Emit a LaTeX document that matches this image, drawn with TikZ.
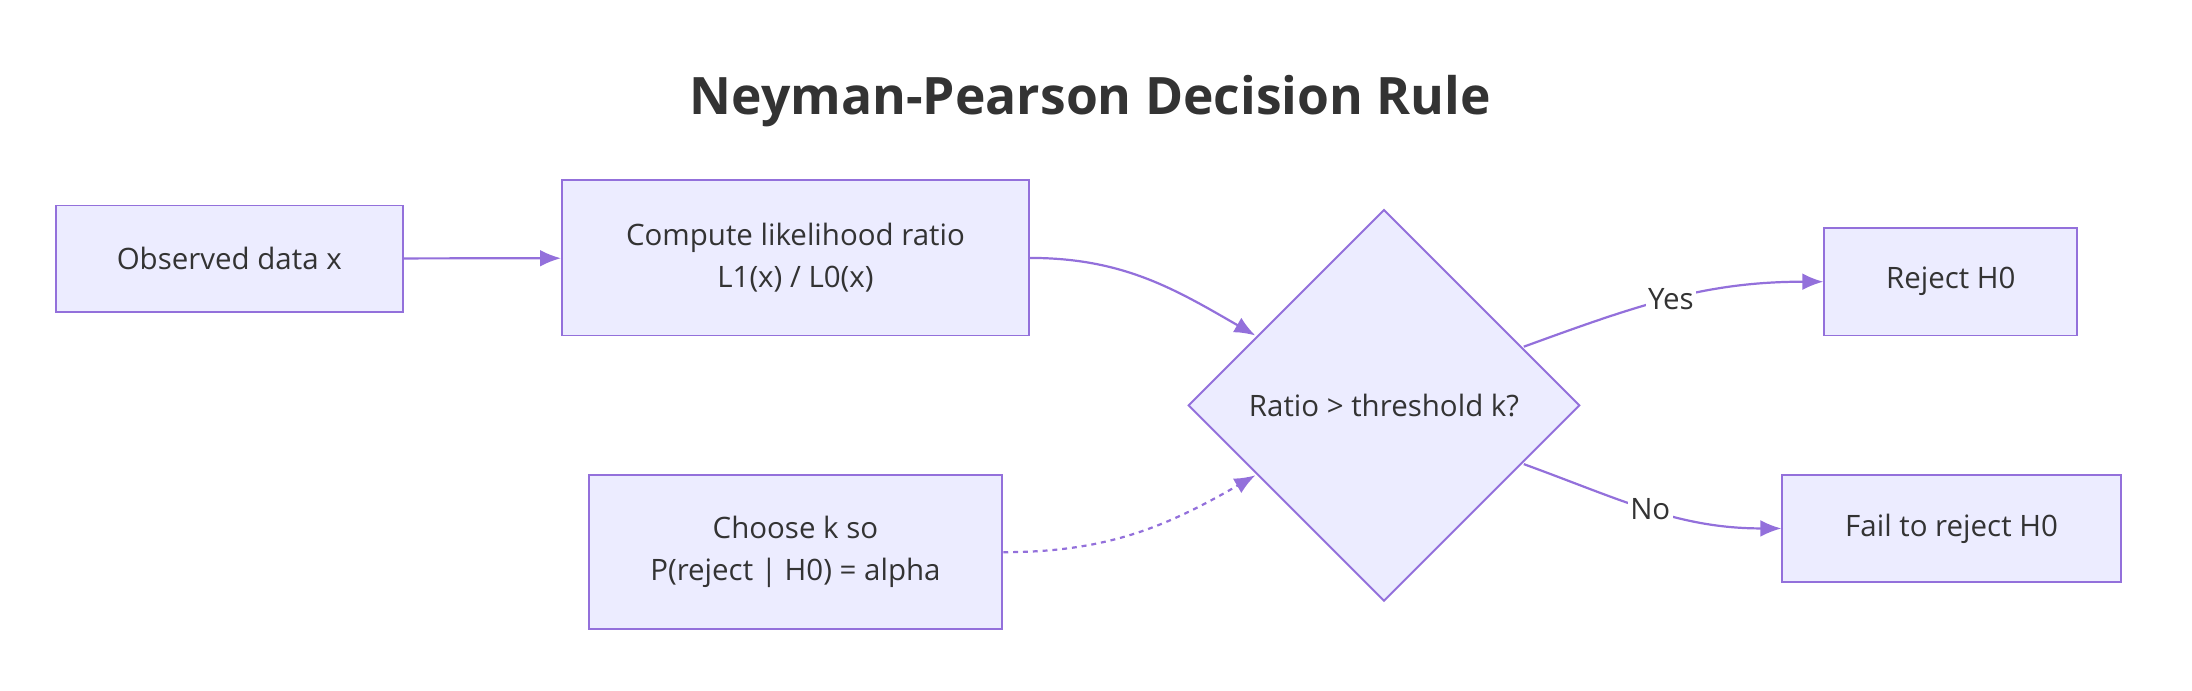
\documentclass[tikz,border=0pt]{standalone}
\usepackage{fontspec}
\setmainfont{Open Sans}
\usetikzlibrary{shapes.geometric}
\usetikzlibrary{arrows.meta}
\definecolor[named]{BoxFill}{HTML}{ECECFF}
\definecolor[named]{BoxLine}{HTML}{9370DB}
\definecolor[named]{TextGray}{HTML}{333333}
\tikzset{
  box/.style={draw=BoxLine,fill=BoxFill,rectangle,align=center,text=TextGray,line width=0.8pt},
  flow/.style={draw=BoxLine,line width=0.9pt,-{Latex[length=3mm,width=2.4mm]}},
  lbl/.style={fill=white,text=TextGray,inner sep=1pt}
}

\begin{document}
\begin{tikzpicture}[x=0.02cm,y=-0.02cm]
  \useasboundingbox (0,0) rectangle (1568,494);
  \fontsize{12}{17}\selectfont

  % Title {{{
  \node[text=TextGray,font=\fontsize{21}{25}\selectfont\bfseries] (title) at (780,72) {Neyman-Pearson Decision Rule};
  % }}}

  % Nodes {{{
  \node[box,minimum width=248*0.02cm,minimum height=76*0.02cm] (obs) at (164,185) {Observed data x};
  \node[box,minimum width=334*0.02cm,minimum height=111*0.02cm] (lr) at (569,184.5) {Compute likelihood ratio\\L1(x) / L0(x)};
  \node[box,minimum width=296*0.02cm,minimum height=110*0.02cm] (k) at (569,395) {Choose k so\\P(reject | H0) = alpha};
  \node[box,diamond,aspect=1,minimum size=280*0.02cm,inner sep=0pt] (dec) at (990,290) {Ratio > threshold k?};
  \node[box,minimum width=181*0.02cm,minimum height=77*0.02cm] (rej) at (1395.5,201.5) {Reject H0};
  \node[box,minimum width=242*0.02cm,minimum height=76*0.02cm] (fail) at (1396,378) {Fail to reject H0};
  % }}}

  % Edges {{{
  \coordinate (decA) at (898,240);
  \coordinate (decB) at (898,340);
  \coordinate (decC) at (1090,248);
  \coordinate (decD) at (1090,332);
  \draw[flow] (obs) -- (lr);
  \draw[flow] (lr.east) to[out=0,in=150] (decA);
  \draw[flow,dashed,dash pattern=on 2pt off 2pt] (k.east) to[out=0,in=210] (decB);
  \draw[flow] (decC) to[out=20,in=180] node[lbl,pos=0.5] (yes) {Yes} (rej.west);
  \draw[flow] (decD) to[out=-20,in=180] node[lbl,pos=0.5] (no) {No} (fail.west);
  % }}}
\end{tikzpicture}
\end{document}
